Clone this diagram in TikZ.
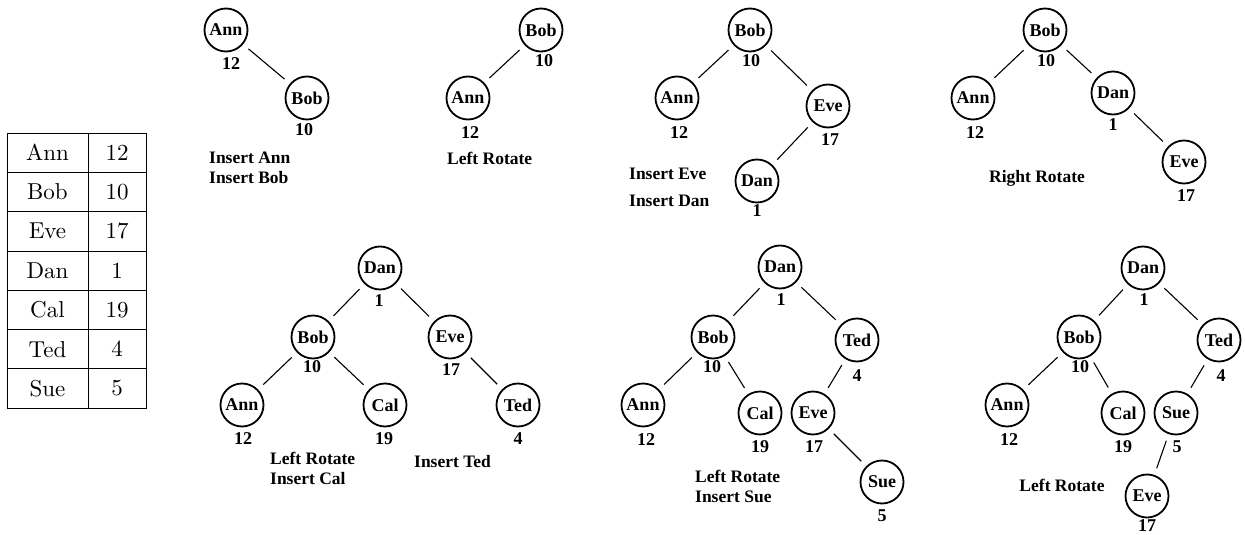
\documentclass[tikz,border=0pt]{standalone}
\usepackage{fontspec}
\newfontfamily\treefont{Liberation Serif}
\newfontfamily\tablefont{lmroman10-regular}[Extension=.otf]
\begin{document}
\begin{tikzpicture}[x=1pt,y=-1pt,
  key/.style={circle, draw, line width=1.8pt, minimum size=43pt, inner sep=0pt,
    font=\treefont\bfseries\fontsize{18}{20}\selectfont},
  num/.style={inner sep=0pt, font=\treefont\bfseries\fontsize{18}{20}\selectfont},
  note/.style={inner sep=0pt, align=left,
    font=\treefont\bfseries\fontsize{17.5}{20}\selectfont},
  link/.style={line width=1.1pt, shorten <=7pt, shorten >=7pt},
  cell/.style={draw, line width=0.8pt, minimum height=39.3pt, inner sep=0pt,
    font=\tablefont\fontsize{23}{28}\selectfont}]
\useasboundingbox (0,0) rectangle (1245,535);

% key / value table
\foreach \k/\v [count=\i from 0] in {Ann/12,Bob/10,Eve/17,Dan/1,Cal/19,Ted/4,Sue/5}{
  \node[cell, minimum width=81pt] (name\i) at (47.5,{133+39.3*(\i+0.5)}) {\k};
  \node[cell, minimum width=58pt] (val\i) at (117,{133+39.3*(\i+0.5)}) {\v};
}

% 1: insert Ann, insert Bob
\node[key] (t1ann) at (226,30) {Ann};
\node[key] (t1bob) at (307,98) {Bob};
\node[num] (t1n12) at (231,64) {12};
\node[num] (t1n10) at (304,130) {10};
\draw[link] (t1ann) -- (t1bob);
\node[note, anchor=west] (t1txt) at (209,168) {Insert Ann\\Insert Bob};

% 2: left rotate
\node[key] (t2bob) at (541,30) {Bob};
\node[key] (t2ann) at (468,98) {Ann};
\node[num] (t2n10) at (544,61) {10};
\node[num] (t2n12) at (470,133) {12};
\draw[link] (t2bob) -- (t2ann);
\node[note, anchor=west] (t2txt) at (447,158) {Left Rotate};

% 3: insert Eve, insert Dan
\node[key] (t3bob) at (750,30) {Bob};
\node[key] (t3ann) at (677,98) {Ann};
\node[key] (t3eve) at (828,106) {Eve};
\node[key] (t3dan) at (757,181) {Dan};
\node[num] (t3n10) at (751,61) {10};
\node[num] (t3n12) at (679,133) {12};
\node[num] (t3n17) at (830,140) {17};
\node[num] (t3n1) at (757,211) {1};
\draw[link] (t3bob) -- (t3ann);
\draw[link] (t3bob) -- (t3eve);
\draw[link] (t3eve) -- (t3dan);
\node[note, anchor=west] (t3txta) at (629,174) {Insert Eve};
\node[note, anchor=west] (t3txtb) at (629,201) {Insert Dan};

% 4: right rotate
\node[key] (t4bob) at (1045,30) {Bob};
\node[key] (t4ann) at (973,98) {Ann};
\node[key] (t4dan) at (1113,93) {Dan};
\node[key] (t4eve) at (1184,162) {Eve};
\node[num] (t4n10) at (1046,61) {10};
\node[num] (t4n12) at (975,133) {12};
\node[num] (t4n1) at (1113,125) {1};
\node[num] (t4n17) at (1186,196) {17};
\draw[link] (t4bob) -- (t4ann);
\draw[link] (t4bob) -- (t4dan);
\draw[link] (t4dan) -- (t4eve);
\node[note] (t4txt) at (1037,178) {Right Rotate};

% 5: left rotate, insert Cal, insert Ted
\node[key] (t5dan) at (380,268) {Dan};
\node[key] (t5bob) at (313,337) {Bob};
\node[key] (t5eve) at (450,337) {Eve};
\node[key] (t5ann) at (242,405) {Ann};
\node[key] (t5cal) at (385,405) {Cal};
\node[key] (t5ted) at (518,405) {Ted};
\node[num] (t5n1) at (379,301) {1};
\node[num] (t5n10) at (312,367) {10};
\node[num] (t5n17) at (451,370) {17};
\node[num] (t5n12) at (243,439) {12};
\node[num] (t5n19) at (384,439) {19};
\node[num] (t5n4) at (518,439) {4};
\draw[link] (t5dan) -- (t5bob);
\draw[link] (t5dan) -- (t5eve);
\draw[link] (t5bob) -- (t5ann);
\draw[link] (t5bob) -- (t5cal);
\draw[link] (t5eve) -- (t5ted);
\node[note, anchor=west] (t5txta) at (270,468) {Left Rotate\\Insert Cal};
\node[note, anchor=west] (t5txtb) at (414,462) {Insert Ted};

% 6: left rotate, insert Sue
\node[key] (t6dan) at (780,267) {Dan};
\node[key] (t6bob) at (713,337) {Bob};
\node[key] (t6ted) at (857,340) {Ted};
\node[key] (t6ann) at (643,405) {Ann};
\node[key] (t6cal) at (760,413) {Cal};
\node[key] (t6eve) at (813,413) {Eve};
\node[key] (t6sue) at (882,482) {Sue};
\node[num] (t6n1) at (781,300) {1};
\node[num] (t6n10) at (712,367) {10};
\node[num] (t6n4) at (857,376) {4};
\node[num] (t6n12) at (646,440) {12};
\node[num] (t6n19) at (760,447) {19};
\node[num] (t6n17) at (814,447) {17};
\node[num] (t6n5) at (882,516) {5};
\draw[link] (t6dan) -- (t6bob);
\draw[link] (t6dan) -- (t6ted);
\draw[link] (t6bob) -- (t6ann);
\draw[link] (t6bob) -- (t6cal);
\draw[link] (t6ted) -- (t6eve);
\draw[link] (t6eve) -- (t6sue);
\node[note, anchor=west] (t6txt) at (695,486) {Left Rotate\\Insert Sue};

% 7: left rotate
\node[key] (t7dan) at (1143,268) {Dan};
\node[key] (t7bob) at (1079,337) {Bob};
\node[key] (t7ted) at (1219,340) {Ted};
\node[key] (t7ann) at (1007,405) {Ann};
\node[key] (t7cal) at (1123,413) {Cal};
\node[key] (t7sue) at (1176,413) {Sue};
\node[key] (t7eve) at (1147,496) {Eve};
\node[num] (t7n1) at (1144,300) {1};
\node[num] (t7n10) at (1080,367) {10};
\node[num] (t7n4) at (1221,376) {4};
\node[num] (t7n12) at (1009,440) {12};
\node[num] (t7n19) at (1123,447) {19};
\node[num] (t7n5) at (1177,447) {5};
\node[num] (t7n17) at (1147,526) {17};
\draw[link] (t7dan) -- (t7bob);
\draw[link] (t7dan) -- (t7ted);
\draw[link] (t7bob) -- (t7ann);
\draw[link] (t7bob) -- (t7cal);
\draw[link] (t7ted) -- (t7sue);
\draw[link] (t7sue) -- (t7eve);
\node[note] (t7txt) at (1062,485) {Left Rotate};
\end{tikzpicture}
\end{document}
